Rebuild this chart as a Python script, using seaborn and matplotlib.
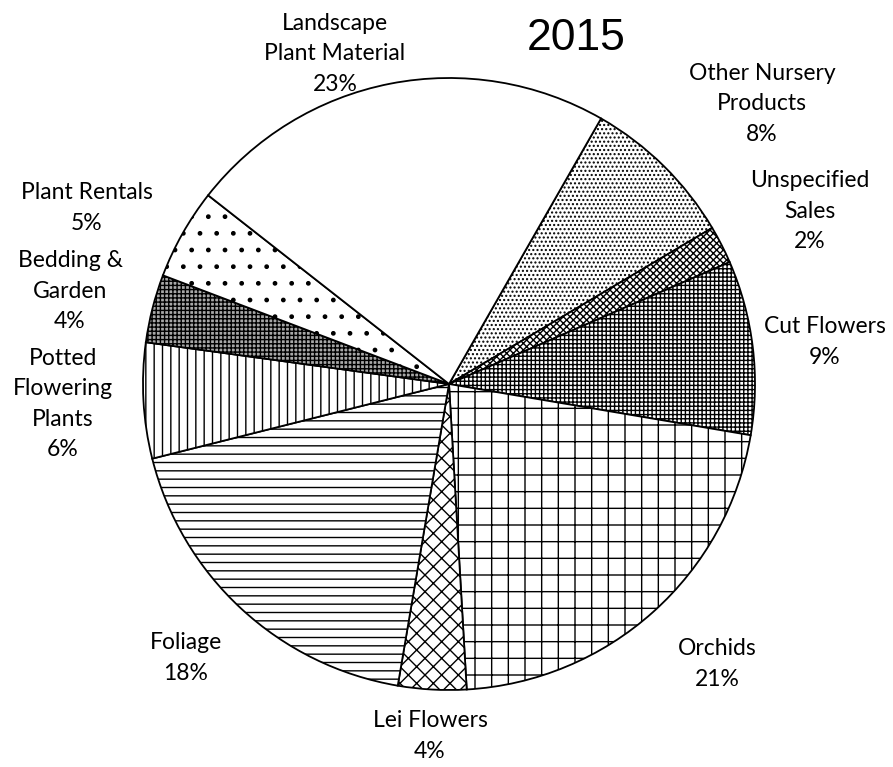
# ================= IMPORT LIBRARIES =================

import matplotlib
matplotlib.use("Agg")
import matplotlib.pyplot as plt
import seaborn as sns

# ================= DATA =================

categories = [
    "Other Nursery\nProducts",
    "Unspecified\nSales",
    "Cut Flowers",
    "Orchids",
    "Lei Flowers",
    "Foliage",
    "Potted\nFlowering\nPlants",
    "Bedding &\nGarden",
    "Plant Rentals",
    "Landscape\nPlant Material",
]

shares = [8.2, 2.0, 9.2, 21.4, 3.6, 18.4, 6.1, 3.6, 4.8, 22.7]

title_text = "2015"

# ================= STYLE =================

sns.set_theme(style="white")
plt.rcParams["font.family"] = ["Lato", "DejaVu Sans"]
plt.rcParams["hatch.linewidth"] = 1.0

hatches = ["....", "xxxxx", "++++", "+", "xx", "--", "||", "++++", ".", ""]
faces = ["white", "white", "white", "white", "white", "white", "white",
         "#a8a8a8", "white", "white"]

# label centres in pixels (layout only)
label_px = [(762, 104), (810, 211), (825, 342), (717, 664), (430, 736),
            (186, 658), (63, 404), (70, 291), (87, 208), (335, 54)]

W, H = 893, 767
cx, cy, R = 449, 384, 306

# ================= PLOT =================

fig = plt.figure(figsize=(W / 100, H / 100), dpi=100)
ax = fig.add_axes([0, 0, 1, 1])

wedges, _ = ax.pie(
    shares,
    startangle=90 - 29.8,
    counterclock=False,
    radius=1,
    colors=faces,
    wedgeprops=dict(edgecolor="black", linewidth=1.3),
)

for w, h in zip(wedges, hatches):
    w.set_hatch(h)

total = sum(shares)
for name, val, (px, py) in zip(categories, shares, label_px):
    ax.text(
        (px - cx) / R,
        (cy - py) / R,
        f"{name}\n{round(val / total * 100)}%",
        ha="center",
        va="center",
        fontsize=16.5,
        linespacing=1.55,
        color="black",
    )

ax.text((576 - cx) / R, (cy - 39) / R, title_text,
        ha="center", va="center", fontsize=32, color="black",
        family=["Liberation Sans", "DejaVu Sans"])

ax.set_xlim(-cx / R, (W - cx) / R)
ax.set_ylim(-(H - cy) / R, cy / R)
ax.axis("off")

fig.savefig("out.png", dpi=100)
